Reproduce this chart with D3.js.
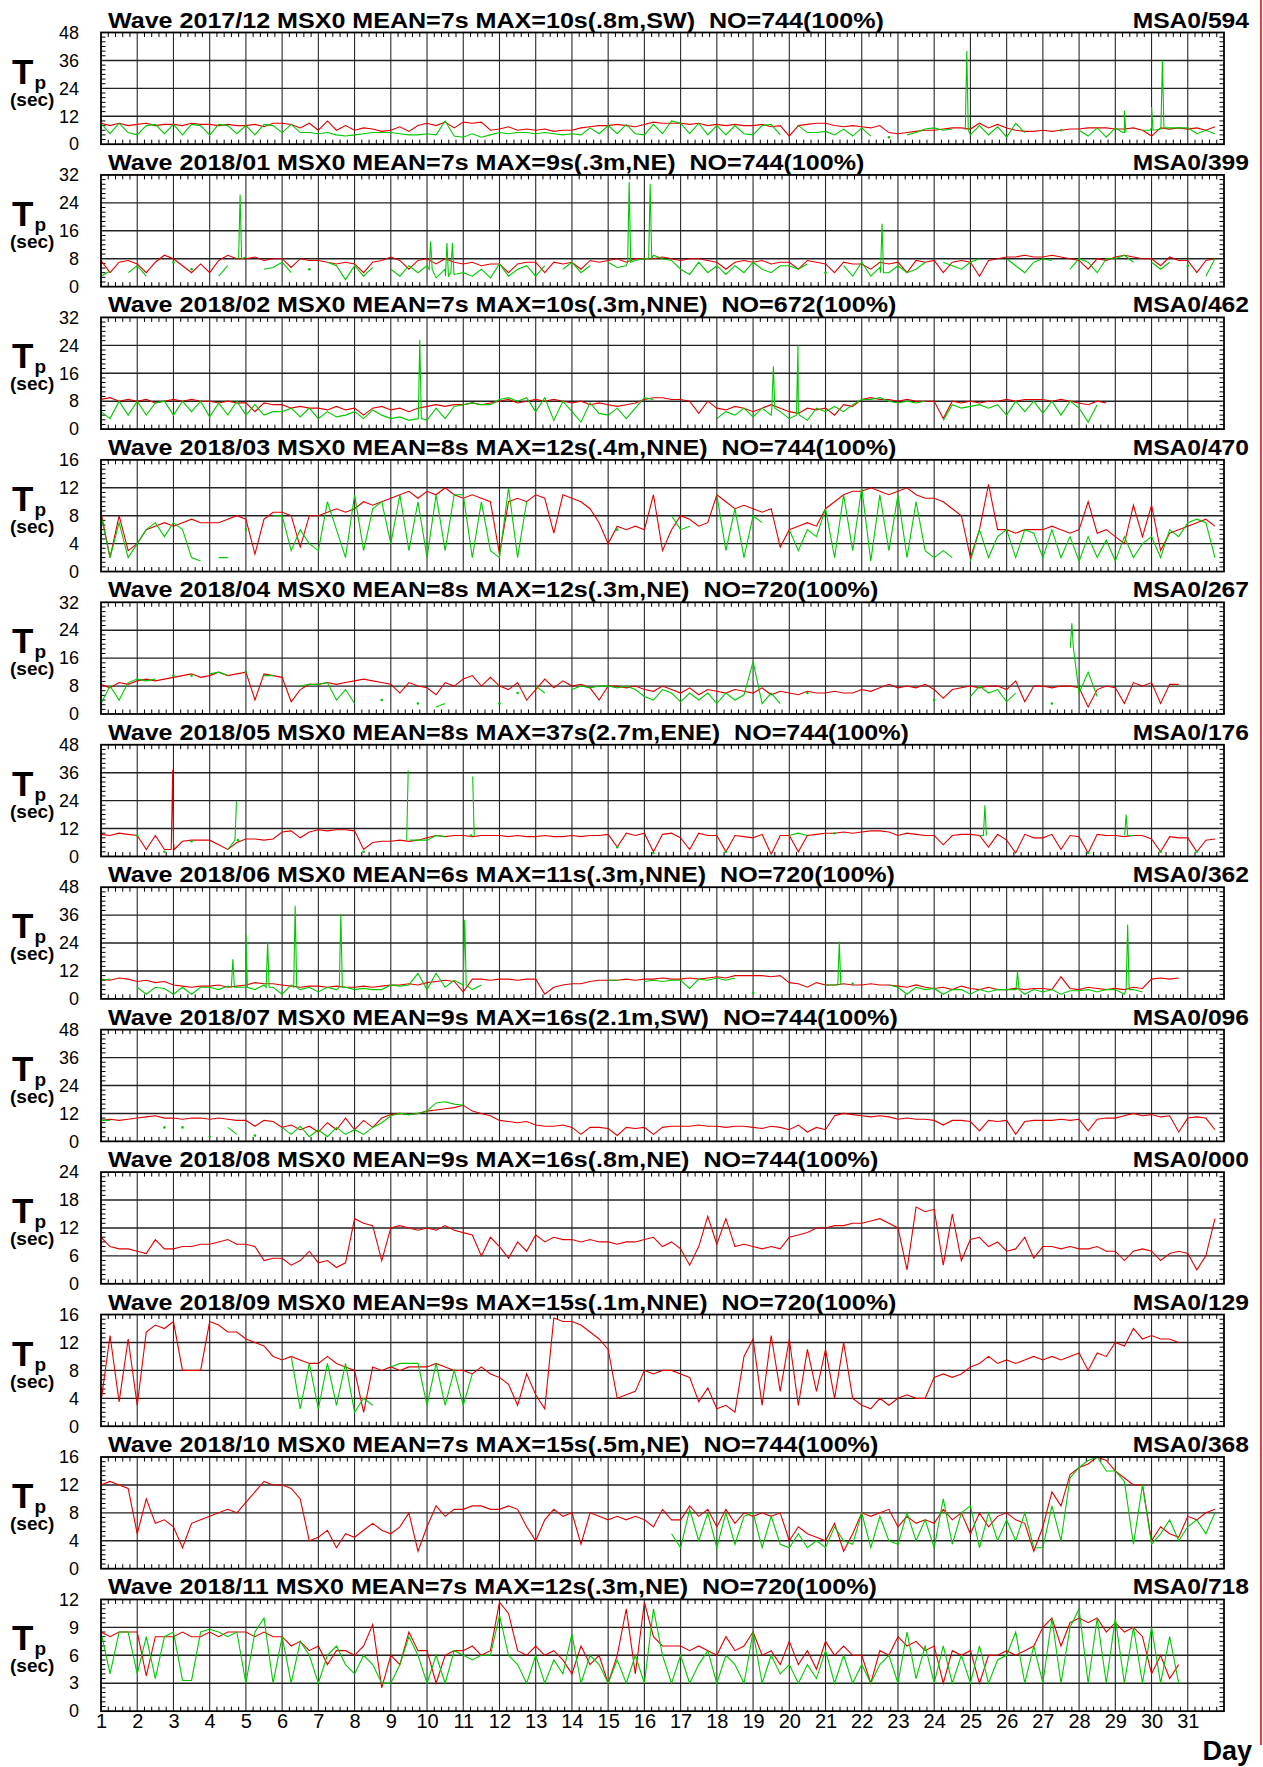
<!DOCTYPE html>
<html><head><meta charset="utf-8">
<script src="https://cdn.jsdelivr.net/npm/d3@7"></script>
<style>
body{margin:0;background:#fff}
svg{display:block}
text{font-family:"Liberation Sans",Arial,Helvetica,sans-serif;fill:#000}
</style>
</head><body>
<svg id="c" width="1263" height="1767"></svg>
<script>
const N = null;
// ---- panel labels ----
const titles = [
 "Wave 2017/12 MSX0 MEAN=7s MAX=10s(.8m,SW)  NO=744(100%)",
 "Wave 2018/01 MSX0 MEAN=7s MAX=9s(.3m,NE)  NO=744(100%)",
 "Wave 2018/02 MSX0 MEAN=7s MAX=10s(.3m,NNE)  NO=672(100%)",
 "Wave 2018/03 MSX0 MEAN=8s MAX=12s(.4m,NNE)  NO=744(100%)",
 "Wave 2018/04 MSX0 MEAN=8s MAX=12s(.3m,NE)  NO=720(100%)",
 "Wave 2018/05 MSX0 MEAN=8s MAX=37s(2.7m,ENE)  NO=744(100%)",
 "Wave 2018/06 MSX0 MEAN=6s MAX=11s(.3m,NNE)  NO=720(100%)",
 "Wave 2018/07 MSX0 MEAN=9s MAX=16s(2.1m,SW)  NO=744(100%)",
 "Wave 2018/08 MSX0 MEAN=9s MAX=16s(.8m,NE)  NO=744(100%)",
 "Wave 2018/09 MSX0 MEAN=9s MAX=15s(.1m,NNE)  NO=720(100%)",
 "Wave 2018/10 MSX0 MEAN=7s MAX=15s(.5m,NE)  NO=744(100%)",
 "Wave 2018/11 MSX0 MEAN=7s MAX=12s(.3m,NE)  NO=720(100%)"
];
const rightLabels = ["MSA0/594","MSA0/399","MSA0/462","MSA0/470","MSA0/267","MSA0/176","MSA0/362","MSA0/096","MSA0/000","MSA0/129","MSA0/368","MSA0/718"];
const yMax = [48,32,32,16,32,48,48,48,24,16,16,12];
const dayTicks = d3.range(1,32);

// ---- series: 4 samples per day (00,06,12,18h) ----
const red_1712 = [9,8,9,8, 8.5,9,8,8.5, 8.5,8,9,8.5, 8.5,8,8.5,8, 8,8.5,7.5,9, 9,8.5,7,9, 6,10,6,8, 6,7,6.5,5.5, 6,7.5,5.5,8, 9,8,9.5,7, 9.5,9,9.5,6, 6.5,7.5,6,6.5, 6,6.5,5.5,6, 6,7,7.5,8, 8,8.5,8,7.5, 8.5,9.5,9,9, 9,8.5,9,8, 8.5,8,8.5,8, 8,8.5,7.5,8, 3.5,8,8.5,9, 9,8,7.5,8, 7.5,7,8,5, 4.5,5,5.5,6, 6,6.5,7,7, 6.5,9,7,8.5, 7,6,5.5,5.5, 6,5.5,6,6.5, 6.5,7,7,7, 6.5,6.5,7,6, 3.5,7,6.5,7, 6.5,7,6,7.5];
const green_1712 = [9,4.5,9,5, 4,8,8.5,4.5, 8.5,4,8.5,8, 4,8.5,8,4.5, 8,4,8.5,8, 5,8.5,5,5, 4.5,5,4,3.5, 4,4.5,5,5, 5,4.5,4,4, 4.5,4,10,3.5, 3,4.5,3,4, 5,4.5,5,5, 4.5,5,4.5,4, 4.5,4,7,4.5, 8,4.5,8.5,4.5, 4,8.5,4.5,10, 9,4.5,9,4, 8,4,8,4.5, 4,8,8.5,4, N,8,5,5, 5.5,4,6.5,3.5, 7,3.5,N,3, N,4,5,6.5, 7,6,6.5,N, 4,8,4,7.5, 3,9,5,N, N,N,6,N, 6,3.5,7,3, 7,5,N,6, 7,6.5,7,7, 7,4.5,6,4.5];
const greenSpikes_1712 = [[24.9,40,6],[29.25,14.5,5],[30.0,16,6],[30.3,36,7]];

const red_1801 = [7.5,4,7,7.5, 6.5,4,7,9, 8,6,4,6.5, 4,7.5,9,8, 8,8.5,7.5,8, 8,5.5,8,7.5, 7.5,7,6.5,7, 6.5,4,7,7.5, 8.5,7.5,5,7.5, 8,6.5,8,7, 6.5,7,6,6.5, 6.5,4,6.5,7, 7,4,7,6.5, 7,5,7.5,7, 7.5,8,7,8, 8,8,8.5,8, 7.5,8,8,7.5, 7,5,7,7.5, 7,7.5,6.5,7, 7,5,7.5,7, 6.5,4,7,6.5, 6.5,5,7,6.5, 7,4,7.5,7, 7.5,4,7,7.5, 7,3,7.5,8, 8.5,8.5,9,8.5, 8.5,9,8.5,8, 7.5,5,8,7.5, 8.5,9,8.5,8, 8,6,8.5,7.5, 7.5,4,7.5,8];
const green_1801 = [3,4.5,N,4, 6,3,N,N, 7,N,5,N, N,3,6,N, 8.5,N,5,5.5, 7,4,N,5, N,7,6,2, 6,3,5.5,N, 5,3,6,4, 6,2.5,5,3.5, 4,3,5,2.5, 6.5,3,5,6, 3,6,N,5, 7,4,6,N, 7,5.5,6,7.5, 8,9,8,7.5, 5,3.5,7,4, 6,3.5,6,4, 7,5,4,6, 6,5,6.5,N, 4,N,6,3, 7,3,5.5,4, 6,4,5,7, N,7,6,5, 7,8,N,N, 8,6,4,7, 8,7.5,N,5, 8,7,4,8, 8,9,7,N, 7,5,7,N, 6,N,3,8];
const greenSpikes_1801 = [[4.84,26.4,8],[10.1,13,5],[10.55,12.5,3],[10.7,12.5,4],[15.58,30,7],[16.16,29.5,8],[22.56,18,4]];

const red_1802 = [8.5,9,8,8.5, 8,8.5,7.5,8, 8.5,8,8.5,8, 8,7.5,8,7.5, 7.5,5,7.5,7, 7,6,6.5,6, 6,5.5,6.5,5.5, 6,4,6,6.5, 5.5,6,5,6, 6.5,7,6.5,7, 7,7.5,7,7.5, 8,8.5,7.5,8, 8.5,8,8.5,8, 7.5,8,7,7.5, 7,6.5,7,7.5, 8.5,9,9,8.5, 8.5,8,4.5,8, 6,5.5,6.5,6, 5,6,7,6, 5,4.5,6,5.5, 6,4,7,6.5, 8.5,9,8.5,8.5, 8,8.5,8,8, 8,3,8,7.5, 8,7.5,8,8, 8.5,8,8.5,8.5, 8.5,8,8.5,8, 7.5,7,8,7.5];
const green_1802 = [5,3,8,4, 8,4,7.5,8, 4,8,5,8, 3.5,7.5,4,8, 4,7,4,5, 5,6,3.5,6, 3,5,3.5,4, 5,3,5.5,4, 3,3.5,2.5,3, 2.5,6,3,6.5, 7,7.5,7,7, 8.5,9,8,9, 5,9,2.5,8, 5,2,7.5,4.5, 4,6,3,6, 9,8.5,N,N, N,N,N,N, 3,5,4,6, 3.5,6,4,5, 3,5,2.5,6, 5,6.5,5,7, 8.5,8.5,9,8, 7.5,8,7.5,8, N,2.5,7,6, 6.5,7,6,7, 4,8,5,8, 4.5,8,4,8, 6,2,7,N];
const greenSpikes_1802 = [[9.8,25.6,3],[19.56,18,6],[20.24,24,4]];

const red_1803 = [8.5,2,8,3, 4,6,6.5,7, 6.5,7,7.5,7, 7,7,7.5,8, 7.5,2.5,7.5,8.5, 8.5,8,3.5,8, 8,8.5,9,8.5, 9,10,9.5,10, 10.5,11,11.5,10.5, 11.5,11,12,11, 10.5,11,10.5,10, 2.5,10,10.5,10, 11,10.5,5.5,11, 10.5,10,9,7, 4,6.5,6,6.5, 6,11,3,6, 8,7.5,6.5,7, 11,10,9,9.5, 9,8.5,9,3.5, 6,6.5,7,6.5, 9,10,11,11.5, 11.5,12,11.5,11, 11.5,12,11,10.5, 10.5,10,9,8, 2,6,12.5,6, 6,5.5,6,6, 6,6.5,6,5.5, 6,10,5.5,6, 5,4,9.5,5, 9.5,3,5.5,6, 6.5,7,7.5,6.5];
const green_1803 = [8,2,7,2, 4,6,7,5, 7,6,2,1.5, N,2,2,N, 6,N,N,8, 8,3,6,4, 3,10,6,2, 11,3,9,10, 4,11,3,10, 2,11,3,11, 11,2,10,3, 2,12,2,10, N,N,N,N, N,N,N,N, N,6,N,N, N,N,N,8, 6,6.5,N,N, 11,3,9,2, 8,7,N,N, 6,3,6,5, 9,2,11,3, 12,1.5,11,3, 11,2,10,3, 2,3,2,N, 1.5,6,2,5, 6,2,6,5.5, 2,6,2,5, 1.5,5,2,4.5, 1.5,5,2,4, 5,2,6,5, 7,7.5,7,2];

const red_1804 = [8.5,7.5,9,8.5, 9.5,10,9.5,10, 10.5,11,11.5,10.5, 11,12,11,11.5, 12,4,11.5,11, 10.5,3.5,7,8.5, 8.5,9,8.5,9, 9.5,10,9.5,9, 8.5,6,9,8, 7.5,5.5,9,8, 10,11,8,10.5, 8,7,9,4, 7,10,7.5,9.5, 8,8.5,7.5,4, 8,8,7.5,8, 7,6.5,8,7, 6,7.5,5.5,7, 6.5,6,7,6.5, 6,7.5,5.5,6.5, 6,5.5,6.5,6, 6,6.5,6,6, 7,6.5,7.5,8.5, 7.5,8,7.5,8.5, 7,4.5,7,7.5, 8,7.5,8,8, 7,9.5,3.5,8, 8,7.5,8,8, 7.5,2,7,8, 7.5,3,9,8, 9,3,8.5,8.5];
const green_1804 = [3,8,4,9, 10,9.5,10,N, 11,N,11,N, 11.5,12,11,N, 12,N,11,11, N,N,8,8.5, 8.5,9,4,7, 3,N,N,4, N,N,N,3, N,2,3,N, N,N,N,N, 3,N,6,N, 8,6,N,N, 7,8,7.5,8, 8,7.5,8,7, 5,4,7,6, 3.5,6,4,6, 3,6,4,5.5, 15,3,6,3, N,N,6,N, N,N,N,N, N,N,N,N, N,N,N,N, 4,N,N,N, 5,8,6,7, 3.5,6,N,N, N,3,N,N, 6,12,5,N, N,N,N,N, N,N,N,N];
const greenSpikes_1804 = [[27.8,26,19]];

const red_1805 = [9.5,9,10,9.5, 9,3,9,3, 6,6.5,7,7, 7,5,3,6, 7.5,7.5,7,7.5, 10.5,11,8,10.5, 11.5,11,11.5,11.5, 11,3,6,6.5, 6.5,7,6.5,7, 8,9,8.5,9, 9,8.5,9,9, 9,8.5,9,8.5, 8.5,9,8.5,8.5, 9,8.5,9,9, 9.5,4,10,9, 10,2,9.5,10, 8,3,10,9, 9,2,9,8.5, 8,9.5,1,9, 9,2,9,9.5, 10,10,10.5,10, 10.5,11,11,10.5, 9,10,9.5,9, 9,5,9,9.5, 9.5,9,4,9.5, 7,1.5,9.5,8, 8,9.5,3,9, 8.5,1.5,9.5,9, 9,8.5,9,9, 7.5,2,8.5,8, 8,2,7,7.5];
const redSpikes_1805 = [[2.98,37.3,3]];
const green_1805 = [2,N,N,N, 9,N,N,2, N,N,6.5,N, N,N,3,N, N,N,N,N, N,N,N,N, N,N,N,N, N,2,N,N, N,N,N,7, 7,9,8.5,N, N,N,N,N, N,N,N,N, N,N,N,N, N,N,N,N, N,4,N,N, N,1.5,N,N, N,N,N,N, N,2,N,N, N,N,N,N, 9,10,9,N, N,10,N,N, N,N,N,N, N,N,N,N, N,N,N,N, N,9,N,N, N,N,N,N, N,N,N,N, N,1.5,N,N, N,N,9,N, N,2,N,N, N,2,N,N];
const greenSpikes_1805 = [[4.74,23.7,7],[9.48,36.9,7],[11.26,34.4,9],[25.4,22,9],[29.3,18,9]];

const red_1806 = [8.5,8,9,8.5, 7.5,8,7,7.5, 6,5.5,5,5.5, 5.5,6,5,5.5, 6,7,6.5,6.5, 6,5.5,5,5.5, 5.5,5,5.5,5, 5,5.5,5,5.5, 6,6,6.5,6, 7,7.5,8,7.5, 3,8.5,8.5,8, 8.5,8.5,8,8.5, 8.5,2,5,6, 6.5,6.5,7.5,8, 8,8,8.5,8, 8.5,8.5,9,8.5, 8.5,9,8.5,9, 9.5,9,10,10, 10,10,9.5,10, 7,6.5,5,7, 6,6,6.5,6, 6,6.5,6,6, 5.5,5,6,5, 4.5,5,4,5.5, 4.5,4,5,4, 4,4.5,4,4.5, 4.5,4,9.5,4.5, 4,5,4.5,4, 4.5,4,5,4.5, 8.5,9,8.5,9];
const green_1806 = [8,8.5,N,N, 5,2,5,4.5, 2,5,2,5, 5,4,5.5,5, 5,4,6,5, 2,6,4,5, 3,5,4,5, 4,4.5,4,4, 6,5.5,6,11, 4,11,5,8, 5,4,6,N, N,N,N,N, N,N,N,N, N,N,N,N, 8,8,N,N, 7.5,8,7.5,8, 8,4.5,8.5,8, 9,8,9,N, 2.5,N,N,N, N,N,N,N, 6,6,N,6.5, N,N,N,6, 5,2,5,4, 4.5,2,4,4, 2,4,3,4, 4,4,2,4, 3,4,2,3.5, 3.5,4,3,4, 4,2,4,3, N,N,N,N];
const greenSpikes_1806 = [[4.64,17,5],[5.0,28,5],[5.6,24.5,5],[6.36,40,5],[7.62,36.5,5],[11.04,34,6],[21.38,24.7,6],[26.3,11.7,4],[29.34,32,4]];

const red_1807 = [9,9.5,9,9.5, 10,10.5,11,10, 10,9.5,10,10, 9.5,10,9.5,9, 9,6.5,9,8.5, 6,7,5,6.5, 4,8,5,10, 5,9,6,10, 11.5,12,11.5,12, 13,13.5,14,14.5, 15.5,13,12,11, 9,8.5,8,8.5, 7,6.5,6.5,7, 6,3,6,6, 5.5,2.5,6,5.5, 6,3,6,6.5, 6.5,6.5,7,6.5, 6.5,6,6.5,6.5, 6,5.5,6.5,6, 5,7,4,6, 5,11,12,11.5, 11,10.5,11,10.5, 9.5,10,9.5,9.5, 9,7,9,9, 8.5,4.5,9,8.5, 9,3,8.5,9, 9,9,9.5,9, 9.5,4.5,9.5,10, 10,11,12,11, 11.5,10.5,11,4, 10,10.5,10,5];
const green_1807 = [9,9,N,N, N,N,N,6, N,6,N,N, 2,N,6,3, N,2.5,N,N, 6,3,6.5,2, 5,2,6,3, 5,3,6,8, 11,12,11.5,12, 13,16.5,17,16, 15.5,N,N,N, N,N,N,N, N,N,N,N, N,N,N,N, N,N,N,N, N,N,N,N, N,N,N,N, N,N,N,N, N,N,N,N, N,N,N,N, N,N,N,N, N,N,N,N, N,N,N,N, N,N,N,N, N,N,N,N, N,N,N,N, N,N,N,N, N,N,N,N, N,N,N,N, N,N,N,N, N,N,N,N, N,N,N,N, N,N,N,N];

const red_1808 = [10,8,7.5,7.5, 7,6.5,9.5,7.5, 7.5,8,8,8.5, 8.5,9,9.5,8.5, 8.5,8,5,5.5, 5.5,4,5,7, 4.5,5,3.5,4.5, 14,13,12.5,5, 12,12.5,12,11.5, 12,11.5,12.5,11.5, 11,10.5,6,10, 8,5.5,9,7, 10.5,9,10,9.5, 9.5,9,9.5,9, 9,8.5,9,9, 9.5,10,8,9, 7.5,4,8,14.5, 8.5,14,8,8.5, 8,7.5,8,7.5, 10,10.5,11,12, 12,12.5,12.5,13, 13,13.5,14,13, 12,3,16.5,15.5, 16,4,15,5, 9.5,10,8,9, 7,7.5,10,5.5, 8,8,7.5,8, 7.5,7.5,8,7, 7,5,7,7.5, 7,5,6.5,7, 6.5,3,6,14];
const green_1808 = [];

const red_1809 = [3.5,13,3.5,12.5, 3,13.5,14.5,14, 15,8,8,8, 15,14.5,13.5,13.5, 12.5,12,11.5,10, 9.5,10,9.5,9, 9,10,9,8.5, 8,2,8.5,8, 8.5,8,8.5,8.5, 8.5,9,8.5,8, 8,7.5,8.5,7.5, 7,6,3,7.5, 4.5,2.5,15.5,15, 15,14.5,13.5,12.5, 11,4,4.5,5, 8,7.5,8,8, 7.5,7,3.5,5.5, 2.5,3,2,10, 12.5,3,13,5, 12.5,3,11,5, 11,4,12,4, 3,2.5,4,3, 4,4.5,4,4, 7,7.5,7,7.5, 8.5,9,10,9, 9.5,9,9.5,10, 9.5,10,9.5,10, 10.5,8,10.5,10, 12,11.5,14,12.5, 13,12.5,12.5,12];
const green_1809 = [N,N,N,N, N,N,N,N, N,N,N,N, N,N,N,N, N,N,N,N, N,10,2.5,9, 2.5,9,3,9, 2,4,3,N, 8.5,9,9,9, 3,9,3,8, 3,7.5,N,N, N,N,N,N, N,N,N,N, N,N,N,N, N,N,N,N, N,N,N,N, N,N,N,N, N,N,N,N, N,N,N,N, N,N,N,N, N,N,N,N, N,N,N,N, N,N,N,N, N,N,N,N, N,N,N,N, N,N,N,N, N,N,N,N, N,N,N,N, N,N,N,N, N,N,N,N];

const red_1810 = [12,12.5,12,11.5, 5,10,6.5,7, 6,3,6.5,7, 7.5,8,8.5,8, 9.5,11,12.5,12, 12,11.5,10,4, 4.5,5.5,3,5, 4.5,5.5,6.5,5.5, 5,6,8,2.5, 6,9,7.5,8.5, 8.5,9,9,8.5, 8.5,9,8.5,6, 4,7,8.5,7.5, 8,3.5,8,7.5, 7,7.5,7,7.5, 7,6,8.5,7, 7,9,7.5,8.5, 6,8.5,6.5,8, 7.5,8,7.5,8, 4,6,5,4.5, 4,6.5,2.5,5, 8,7.5,8,8.5, 6,7.5,6.5,7, 6.5,8.5,7,8, 5,8,6,7.5, 8,7,6.5,2.5, 6,11,9,13.5, 14.5,15,16,15.5, 14,13,12,12, 4,6,5,4.5, 7.5,7,8,8.5];
const green_1810 = [N,N,N,N, N,N,N,N, N,N,N,N, N,N,N,N, N,N,N,N, N,N,N,N, N,N,N,N, N,N,N,N, N,N,N,N, N,N,N,N, N,N,N,N, N,N,N,N, N,N,N,N, N,N,N,N, N,N,N,N, N,N,N,5, 3,8.5,4,8, 3,8,3.5,7.5, 8,3,7.5,3.5, 3,5,3,4, 3,6,4,3.5, 8,3,7.5,4, 3.5,8,4,7, 3,10,3.5,8, 9,3,8,4, 7,4,8,3, 3,9,4,13, 14.5,15.5,16,14, 14,12.5,3.5,12, 3.5,5,7,4, 6,7,5,8];

const red_1811 = [8.5,8,8.5,8.5, 8.5,3.8,8,8, 8,8.5,8,8, 8.5,8,8.5,8.5, 8.5,8,8.5,8, 8,7,7.5,6.5, 7,5,6.5,6.5, 6,7,9.3,2.5, 6,5,8.5,6.5, 6.5,3,6,6.5, 6.5,7,6,6.5, 11.7,10.5,6.5,6, 7,6,6.5,5.5, 4,7,5,6, 3,6,11,4, 11.7,8,7,7, 7,6.5,7,6.5, 6,8,6.5,7, 8.5,6,6.5,5, 7.5,5,6.5,4.5, 7.5,6,7,6, 6,3,6.5,6, 8,7,7.5,6.5, 7,3,6.5,6, 6.5,3,6,6, 6.5,6,6.5,7, 9,10,7,9.5, 10,9.5,10,8.5, 9.5,8.5,9,8, 4,6,3.5,5];
const green_1811 = [8.5,4,8.5,8.5, 4,8,3.5,8, 8.5,3.3,3.3,8.5, 8.8,8.5,8,8.5, 3,8.5,10,3, 8,3,7.5,6, 3,6,7,5, 4,6,5,3, 3,5,8,6, 3,6,3,6.5, 6,5.5,6,6, 10.3,6,5,3, 6,3,5.5,4, 8.3,3,6,5, 3,5.5,3,6, 3,11,6,3, 6,3,5,6.5, 3,6,5,3, 8.5,3,6,4, 5,3,5,3.5, 6.5,3,6,3, 5,3,5,6, 3,8.5,3.5,7, 3,7,3,6, 3,7,3,5.5, 6,8.5,3,7, 3,10,3,9, 11,3,10,3, 10,3,9,3, 9,3,8,3];

const panels = [
 {red:red_1712, green:green_1712, rs:[], gs:greenSpikes_1712},
 {red:red_1801, green:green_1801, rs:[], gs:greenSpikes_1801},
 {red:red_1802, green:green_1802, rs:[], gs:greenSpikes_1802},
 {red:red_1803, green:green_1803, rs:[], gs:[]},
 {red:red_1804, green:green_1804, rs:[], gs:greenSpikes_1804},
 {red:red_1805, green:green_1805, rs:redSpikes_1805, gs:greenSpikes_1805},
 {red:red_1806, green:green_1806, rs:[], gs:greenSpikes_1806},
 {red:red_1807, green:green_1807, rs:[], gs:[]},
 {red:red_1808, green:green_1808, rs:[], gs:[]},
 {red:red_1809, green:green_1809, rs:[], gs:[]},
 {red:red_1810, green:green_1810, rs:[], gs:[]},
 {red:red_1811, green:green_1811, rs:[], gs:[]}
].map((p,i)=>Object.assign(p,{title:titles[i], right:rightLabels[i], ymax:yMax[i]}));

// ---- drawing ----
const X0=101, X1=1224, TOP0=32.5, PITCH=142.45, PH=111.7;
const RED="#e00000", GREEN="#00c800";
const svg=d3.select("#c");
const x=d3.scaleLinear().domain([1,32]).range([X0,X1]);

function build(vals, spikes){
  const pts = vals.map((v,i)=>({t:1+i/4, v}));
  spikes.forEach(([t,pk,b])=>{ pts.push({t:t-1/24,v:b},{t:t,v:pk},{t:t+1/24,v:b}); });
  pts.sort((a,b)=>a.t-b.t);
  return pts;
}

panels.forEach((p,i)=>{
  const top=TOP0+PITCH*i, bot=top+PH;
  const y=d3.scaleLinear().domain([0,p.ymax]).range([bot,top]);
  const g=svg.append("g");
  const majors=d3.range(0,5).map(k=>k*p.ymax/4);

  // grid
  g.append("g").selectAll("line").data(d3.range(2,32)).join("line")
    .attr("x1",d=>x(d)).attr("x2",d=>x(d)).attr("y1",top).attr("y2",bot)
    .attr("stroke","#2a2a2a").attr("stroke-width",1.1);
  g.append("g").selectAll("line").data(majors.slice(1,4)).join("line")
    .attr("x1",X0).attr("x2",X1).attr("y1",d=>y(d)).attr("y2",d=>y(d))
    .attr("stroke","#222").attr("stroke-width",1.4);

  // minor ticks
  const xm=d3.range(0,155).map(k=>1+k*0.2).filter(d=>Math.abs(d-Math.round(d))>0.01);
  const tg=g.append("g").attr("stroke","#000").attr("stroke-width",1);
  tg.selectAll(".mt").data(xm).join("line").attr("class","mt").attr("x1",d=>x(d)).attr("x2",d=>x(d)).attr("y1",top).attr("y2",top+4.5);
  tg.selectAll(".mb").data(xm).join("line").attr("class","mb").attr("x1",d=>x(d)).attr("x2",d=>x(d)).attr("y1",bot).attr("y2",bot-4.5);
  const ym=d3.range(1,24).filter(k=>k%6!==0).map(k=>k*p.ymax/24);
  tg.selectAll(".ml").data(ym).join("line").attr("class","ml").attr("x1",X0).attr("x2",X0+4.5).attr("y1",d=>y(d)).attr("y2",d=>y(d));
  tg.selectAll(".mr").data(ym).join("line").attr("class","mr").attr("x1",X1).attr("x2",X1-4.5).attr("y1",d=>y(d)).attr("y2",d=>y(d));

  // series
  const cid="clip"+i;
  svg.append("clipPath").attr("id",cid).append("rect").attr("x",X0).attr("y",top).attr("width",X1-X0).attr("height",PH);
  const sg=g.append("g").attr("clip-path",`url(#${cid})`);
  const line=d3.line().defined(d=>d.v!==null).x(d=>x(d.t)).y(d=>y(d.v));
  const rp=build(p.red,p.rs), gp=build(p.green,p.gs);
  sg.append("path").datum(rp).attr("d",line).attr("fill","none").attr("stroke",RED).attr("stroke-width",1.1);
  sg.append("path").datum(gp).attr("d",line).attr("fill","none").attr("stroke",GREEN).attr("stroke-width",1.1);
  const iso=gp.filter((d,k)=>d.v!==null && (k===0||gp[k-1].v===null) && (k===gp.length-1||gp[k+1].v===null));
  sg.selectAll(".dot").data(iso).join("circle").attr("cx",d=>x(d.t)).attr("cy",d=>y(d.v)).attr("r",1.3).attr("fill",GREEN);

  // frame
  g.append("rect").attr("x",X0).attr("y",top).attr("width",X1-X0).attr("height",PH)
    .attr("fill","none").attr("stroke","#000").attr("stroke-width",1.8);

  // y axis labels
  const ay=g.append("g").attr("transform",`translate(${X0},0)`)
    .call(d3.axisLeft(y).tickValues(majors).tickSize(0).tickPadding(22).tickFormat(d3.format("d")));
  ay.select(".domain").remove();
  ay.attr("font-family",null).attr("font-size",null);
  ay.selectAll("text").attr("font-size",18).attr("fill","#000");

  // titles
  g.append("text").attr("transform",`translate(108,${top-5}) scale(1.14,1)`)
    .attr("font-size",22).attr("font-weight","bold").style("white-space","pre").text(p.title);
  g.append("text").attr("transform",`translate(1249,${top-5}) scale(1.12,1)`)
    .attr("text-anchor","end").attr("font-size",22).attr("font-weight","bold").text(p.right);

  // y title: T with subscript p, then (sec) on the next line
  const yt=g.append("text").attr("x",12).attr("y",top+51).attr("font-weight","bold");
  yt.append("tspan").attr("font-size",35).text("T");
  yt.append("tspan").attr("font-size",19).attr("dx",1).attr("dy",5).text("p");
  yt.append("tspan").attr("x",10).attr("dy",17).attr("font-size",19).text("(sec)");

  if(i===panels.length-1){
    const ax=g.append("g").attr("transform",`translate(0,${bot})`)
      .call(d3.axisBottom(x).tickValues(dayTicks).tickSize(0).tickPadding(3).tickFormat(d3.format("d")));
    ax.select(".domain").remove();
    ax.attr("font-family",null).attr("font-size",null);
    ax.selectAll("text").attr("font-size",20).attr("fill","#000");
  }
});

svg.append("text").attr("x",1252).attr("y",1760).attr("text-anchor","end")
  .attr("font-size",27).attr("font-weight","bold").text("Day");
svg.append("line").attr("x1",1261).attr("x2",1261).attr("y1",0).attr("y2",1745)
  .attr("stroke","#e00000").attr("stroke-width",1.5);
</script>
</body></html>
